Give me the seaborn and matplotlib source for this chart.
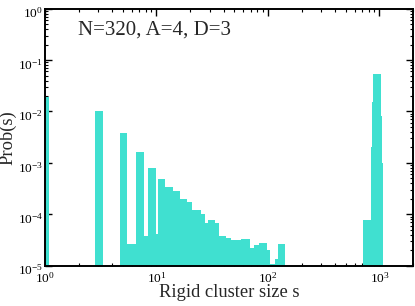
import numpy as np
import pandas as pd
import matplotlib
matplotlib.use("Agg")
import matplotlib.pyplot as plt
import matplotlib.ticker as mticker
import matplotlib.transforms as mtransforms
import seaborn as sns

# histogram bins of rigid cluster size s (edges) and probability per bin
bin_edges = [0.92, 1.09, 2.80, 3.29, 4.67, 5.46, 6.53, 7.70, 8.41, 9.86,
             10.3, 11.9, 14.1, 16.4, 18.8, 20.7, 24.9, 27.2, 29.0, 33.8,
             36.1, 42.3, 46.9, 57.2, 68.4, 74.8, 82.4, 97.2, 104.9, 114.6,
             122.7, 142.9, 707, 834, 846, 864, 882, 1040, 1062, 1084]
prob = [1.95e-2, 0, 1.0e-2, 0, 3.8e-3, 2.7e-5, 1.6e-3, 3.8e-5, 7.9e-4, 4.2e-5,
        4.8e-4, 3.45e-4, 2.9e-4, 1.96e-4, 1.76e-4, 1.2e-4, 1.02e-4, 6.9e-5, 7.9e-5, 6.7e-5,
        3.7e-5, 3.5e-5, 3.1e-5, 3.25e-5, 2.2e-5, 2.5e-5, 2.77e-5, 2.03e-5, 1.1e-5, 1.35e-5,
        2.7e-5, 0, 7.9e-5, 3e-4, 2e-3, 1.5e-2, 5.4e-2, 8e-3, 1e-3]

label = 'N=320, A=4, D=3'

################################################################################

sns.set_style('ticks')
plt.rcParams['font.family'] = ['Liberation Serif', 'DejaVu Serif']
plt.rcParams['mathtext.fontset'] = 'custom'
plt.rcParams['mathtext.rm'] = 'Liberation Serif'
plt.rcParams['mathtext.it'] = 'Liberation Serif:italic'

edges = np.array(bin_edges)
hist = pd.DataFrame({
    's': np.sqrt(edges[:-1] * edges[1:]),
    'prob': prob,
})

fig = plt.figure(figsize = (4.15, 3.06), dpi = 100)
ax = fig.add_axes([0.1084, 0.1317, 0.8868, 0.8399])

sns.histplot(
    data = hist,
    x = 's',
    weights = 'prob',
    bins = list(bin_edges),
    color = '#40E0D0',
    alpha = 1,
    linewidth = 0,
    ax = ax
)

ax.set_xscale('log')
ax.set_yscale('log')
ax.set_xlim(1, 2000)
ax.set_ylim(1e-5, 1)

ax.xaxis.set_minor_locator(mticker.LogLocator(base = 10, subs = np.arange(2, 10), numticks = 30))
ax.yaxis.set_minor_locator(mticker.LogLocator(base = 10, subs = np.arange(2, 10), numticks = 30))
ax.xaxis.set_minor_formatter(mticker.NullFormatter())
ax.yaxis.set_minor_formatter(mticker.NullFormatter())

for side in ax.spines.values():
    side.set_linewidth(1.4)
    side.set_color('black')

ax.tick_params(which = 'both', direction = 'in', top = True, right = True,
               colors = 'black', labelsize = 9.6)
ax.tick_params(axis = 'x', pad = 3.5)
ax.tick_params(axis = 'y', pad = 1.5)
ax.tick_params(which = 'major', length = 5, width = 1)
ax.tick_params(which = 'minor', length = 2.5, width = 0.8)

ax.set_xlabel('Rigid cluster size s', fontsize = 13.3, va = 'top')
ax.set_ylabel('Prob(s)', fontsize = 13.3)
ax.xaxis.set_label_coords(0.5, -0.072)
ax.yaxis.set_label_coords(-0.077, 0.5)

ax.text(0.089, 0.898, label, transform = ax.transAxes, fontsize = 15)

# xmgrace places the y labels a little lower
shift = mtransforms.ScaledTranslation(0, -2.5 / 72, fig.dpi_scale_trans)
for tick in ax.yaxis.get_major_ticks():
    tick.label1.set_transform(tick.label1.get_transform() + shift)

fig.savefig('out.png', dpi = 100)
